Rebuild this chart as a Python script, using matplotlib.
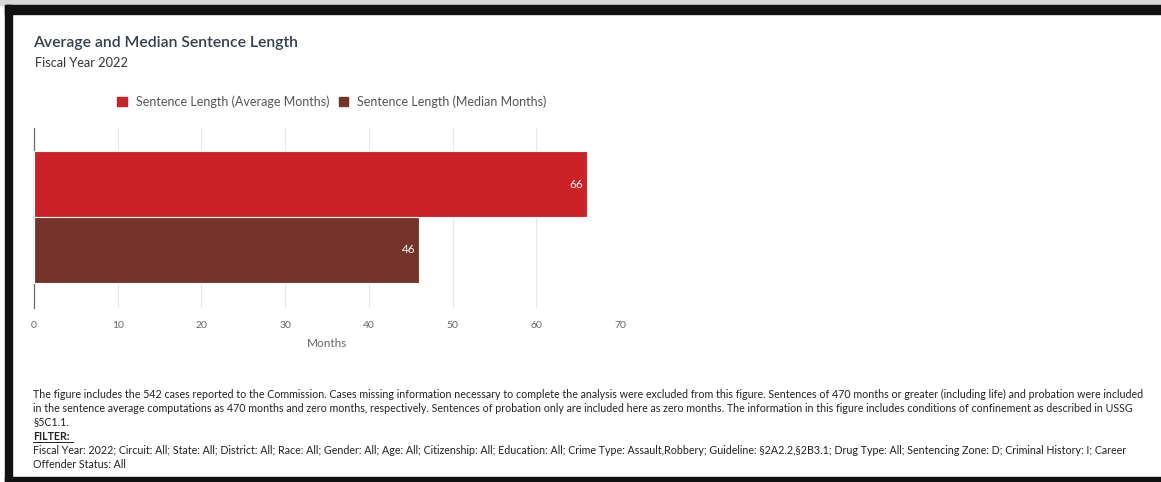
import matplotlib.pyplot as plt
from matplotlib.patches import Rectangle

plt.rcParams['font.family'] = ['Lato', 'DejaVu Sans']

# data
series = ['Sentence Length (Average Months)', 'Sentence Length (Median Months)']
values = [66, 46]
colors = ['#cc2127', '#74342b']
xticks = [0, 10, 20, 30, 40, 50, 60, 70]

title = 'Average and Median Sentence Length'
subtitle = 'Fiscal Year 2022'
note_lines = [
    'The figure includes the 542 cases reported to the Commission. Cases missing information necessary to complete the analysis were excluded from this figure. Sentences of 470 months or greater (including life) and probation were included',
    'in the sentence average computations as 470 months and zero months, respectively. Sentences of probation only are included here as zero months. The information in this figure includes conditions of confinement as described in USSG',
    '§5C1.1.',
]
filter_lines = [
    'Fiscal Year: 2022; Circuit: All; State: All; District: All; Race: All; Gender: All; Age: All; Citizenship: All; Education: All; Crime Type: Assault,Robbery; Guideline: §2A2.2,§2B3.1; Drug Type: All; Sentencing Zone: D; Criminal History: I; Career',
    'Offender Status: All',
]

W, H = 1161, 482
fig = plt.figure(figsize=(W / 100, H / 100), dpi=100)

def px(x, y):
    # pixel coords (from top-left) to figure fraction
    return x / W, 1 - y / H

# black frame like the screenshot
fig.patches.append(Rectangle((0, 1 - 5 / H), 1, 5 / H, transform=fig.transFigure, color='#d8d8d8', zorder=0))
fig.patches.append(Rectangle((5 / W, 1 - 14 / H), 1, 9 / H, transform=fig.transFigure, color='#111111', zorder=1))
fig.patches.append(Rectangle((5 / W, 0), 7 / W, 1 - 5 / H, transform=fig.transFigure, color='#111111', zorder=1))
fig.patches.append(Rectangle((5 / W, 0), 1, 5 / H, transform=fig.transFigure, color='#111111', zorder=1))

# plot area: x 34..620, y 128..308 px
left, right, top, bottom = 34, 620, 128, 308
ax = fig.add_axes([left / W, 1 - bottom / H, (right - left) / W, (bottom - top) / H])

n = len(values)
pos = [n / 2 - 0.5 - i for i in range(n)]
ax.barh(pos, values, height=1.0, color=colors, edgecolor='white', linewidth=0.8, zorder=3)
for p, v in zip(pos, values):
    ax.text(v - 0.45, p, str(v), color='white', ha='right', va='center', fontsize=8.5, zorder=4)

ax.set_xlim(0, 70)
ax.set_ylim(-n / 2 - 0.38, n / 2 + 0.35)
ax.set_xticks(xticks)
ax.set_xticklabels([str(t) for t in xticks], color='#666666', fontsize=7.5)
ax.set_yticks([])
ax.tick_params(axis='x', length=0, pad=9)
ax.grid(axis='x', color='#e6e6e6', linewidth=0.8, zorder=0)
for s in ['top', 'right', 'bottom']:
    ax.spines[s].set_visible(False)
ax.spines['left'].set_color('#6a6a6a')
ax.spines['left'].set_linewidth(0.9)
ax.set_xlabel('Months', color='#666666', fontsize=8.5, labelpad=6)

# titles
fig.text(*px(33, 43), title, fontsize=11.3, fontweight='semibold', color='#333f4c',
         va='center', ha='left')
fig.text(*px(35, 63), subtitle, fontsize=9.2, color='#333333', va='center', ha='left')

# legend
fig.legend(handles=[Rectangle((0, 0), 1, 1, color=c) for c in colors], labels=series,
           loc='center', bbox_to_anchor=px(332, 102), ncol=2, frameon=False,
           fontsize=9.0, labelcolor='#555555', handlelength=0.75, handleheight=0.75,
           handletextpad=0.7, columnspacing=0.8)

# footnote
y = 394
step = 14.0
for line in note_lines:
    fig.text(*px(33, y), line, fontsize=7.7, color='#222222', va='center', ha='left')
    y += step
fig.text(*px(33, y), 'FILTER:', fontsize=7.7, color='#222222', va='center', ha='left',
         fontweight='bold')
fig.add_artist(plt.Line2D([33 / W, 73 / W], [1 - (y + 6) / H] * 2, color='#222222', linewidth=0.7))
y += step
for line in filter_lines:
    fig.text(*px(33, y), line, fontsize=7.7, color='#222222', va='center', ha='left')
    y += step

fig.savefig('out.png', dpi=100)
